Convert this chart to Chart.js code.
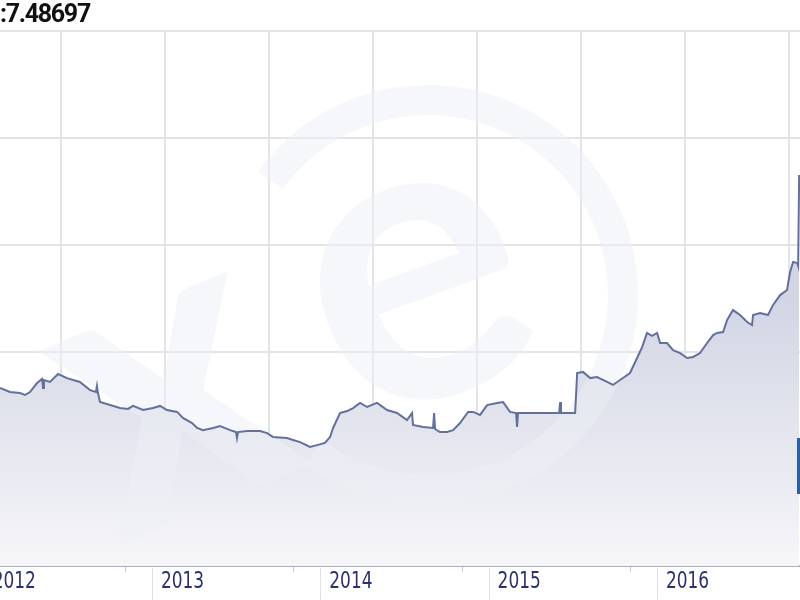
<!DOCTYPE html>
<html>
<head>
<meta charset="utf-8">
<script src="https://cdn.jsdelivr.net/npm/chart.js@4"></script>
<style>
  html, body { margin: 0; padding: 0; background: #fff; }
  #wrap { position: relative; width: 800px; height: 600px; overflow: hidden; }
  #title { position: absolute; left: 0; top: -1px; font: bold 25px Roboto, sans-serif; letter-spacing: -1.3px; color: #111; }
  #handle { position: absolute; left: 797px; top: 438px; width: 4px; height: 56px; background: #2f5ea6; }
</style>
</head>
<body>
<div id="wrap">
  <canvas id="chart" width="800" height="600"></canvas>
  <div id="title">:7.48697</div>
  <div id="handle"></div>
</div>
<script>
// decimal years
var dates = [2012.097, 2012.156, 2012.216, 2012.246, 2012.275, 2012.317, 2012.347, 2012.353, 2012.358, 2012.394,
  2012.442, 2012.495, 2012.572, 2012.632, 2012.667, 2012.673, 2012.679, 2012.691, 2012.751, 2012.810,
  2012.858, 2012.887, 2012.947, 2013.006, 2013.048, 2013.089, 2013.149, 2013.184, 2013.238, 2013.268,
  2013.303, 2013.363, 2013.404, 2013.464, 2013.499, 2013.505, 2013.511, 2013.565, 2013.642, 2013.684,
  2013.719, 2013.802, 2013.838, 2013.880, 2013.939, 2013.981, 2014.028, 2014.058, 2014.076, 2014.117,
  2014.159, 2014.195, 2014.236, 2014.278, 2014.337, 2014.397, 2014.456, 2014.515, 2014.545, 2014.551,
  2014.610, 2014.670, 2014.676, 2014.682, 2014.711, 2014.753, 2014.789, 2014.830, 2014.878, 2014.908,
  2014.949, 2014.991, 2015.050, 2015.086, 2015.127, 2015.163, 2015.169, 2015.175, 2015.228, 2015.305,
  2015.365, 2015.419, 2015.425, 2015.430, 2015.514, 2015.526, 2015.561, 2015.603, 2015.644, 2015.704,
  2015.739, 2015.781, 2015.840, 2015.882, 2015.912, 2015.941, 2015.971, 2016.001, 2016.019, 2016.060,
  2016.096, 2016.138, 2016.179, 2016.215, 2016.256, 2016.298, 2016.334, 2016.357, 2016.393, 2016.417,
  2016.452, 2016.494, 2016.536, 2016.565, 2016.571, 2016.613, 2016.660, 2016.690, 2016.732, 2016.773,
  2016.791, 2016.809, 2016.833, 2016.839, 2016.845];

var rates = [6.332, 6.313, 6.308, 6.299, 6.313, 6.355, 6.374, 6.332, 6.369, 6.360,
  6.397, 6.378, 6.360, 6.322, 6.313, 6.341, 6.308, 6.266, 6.252, 6.238,
  6.234, 6.248, 6.229, 6.238, 6.248, 6.229, 6.220, 6.192, 6.168, 6.145,
  6.135, 6.145, 6.154, 6.135, 6.126, 6.098, 6.126, 6.131, 6.131, 6.121,
  6.103, 6.098, 6.089, 6.079, 6.056, 6.065, 6.075, 6.103, 6.145, 6.215,
  6.224, 6.238, 6.262, 6.243, 6.262, 6.229, 6.215, 6.182, 6.215, 6.159,
  6.150, 6.145, 6.215, 6.140, 6.126, 6.126, 6.135, 6.168, 6.220, 6.220,
  6.206, 6.252, 6.262, 6.266, 6.220, 6.215, 6.150, 6.215, 6.215, 6.215,
  6.215, 6.215, 6.266, 6.215, 6.215, 6.402, 6.407, 6.378, 6.383, 6.360,
  6.346, 6.369, 6.402, 6.472, 6.523, 6.589, 6.575, 6.589, 6.542, 6.542,
  6.509, 6.495, 6.472, 6.477, 6.495, 6.542, 6.579, 6.589, 6.593, 6.650,
  6.696, 6.673, 6.640, 6.626, 6.673, 6.682, 6.673, 6.720, 6.766, 6.790,
  6.874, 6.921, 6.916, 6.902, 7.327];

var yearStarts = [2012, 2013, 2014, 2015, 2016];
var yearLabels = ["2012", "2013", "2014", "2015", "2016"];
var minorTicks = [2012.84, 2013.84, 2014.84, 2015.84];
var gridDates = [2012.459, 2013.077, 2013.695, 2014.313, 2014.931, 2015.549, 2016.167, 2016.785];

var watermark = {
  id: "watermark",
  beforeDatasetDraw: function(chart) {
    var c = chart.ctx, a = chart.chartArea;
    c.save();
    c.beginPath();
    c.rect(a.left, a.top, a.right - a.left, a.bottom - a.top);
    c.clip();
    c.fillStyle = c.strokeStyle = "rgba(238,239,245,0.5)";
    c.lineWidth = 30;
    c.beginPath();
    c.arc(428, 295, 195, Math.PI * 1.2, Math.PI * 0.7);
    c.stroke();
    c.font = "bold 410px Lato, sans-serif";
    c.textAlign = "center";
    c.textBaseline = "alphabetic";
    c.save();
    c.translate(455, 392);
    c.rotate(-0.35);
    c.fillText("e", 0, 0);
    c.restore();
    c.save();
    c.translate(215, 505);
    c.rotate(-0.4);
    c.fillText("x", 0, 0);
    c.restore();
    c.restore();
  }
};

var yearAxis = {
  id: "yearAxis",
  afterDraw: function(chart) {
    var c = chart.ctx, xs = chart.scales.x, a = chart.chartArea;
    c.save();
    c.lineWidth = 1;
    c.strokeStyle = "#e1e1e6";
    for (var i = 0; i < yearStarts.length; i++) {
      var px = Math.round(xs.getPixelForValue(yearStarts[i])) + 0.5;
      c.beginPath();
      c.moveTo(px, a.bottom + 2);
      c.lineTo(px, chart.height);
      c.stroke();
    }
    c.strokeStyle = "#c9ccd8";
    for (var j = 0; j < minorTicks.length; j++) {
      var tx = Math.round(xs.getPixelForValue(minorTicks[j])) + 0.5;
      c.beginPath();
      c.moveTo(tx, a.bottom + 1);
      c.lineTo(tx, a.bottom + 6);
      c.stroke();
    }
    c.font = '23px "DejaVu Sans Condensed", "Liberation Sans", sans-serif';
    c.fillStyle = "#2b3070";
    c.textBaseline = "middle";
    c.textAlign = "left";
    for (var k = 0; k < yearStarts.length; k++) {
      c.save();
      c.translate(xs.getPixelForValue(yearStarts[k]) + 9, a.bottom + 16);
      c.scale(0.82, 1);
      c.fillText(yearLabels[k], 0, 0);
      c.restore();
    }
    c.restore();
  }
};

var points = dates.map(function(d, i) { return {x: d, y: rates[i]}; });

new Chart(document.getElementById("chart").getContext("2d"), {
  type: "line",
  data: {
    datasets: [{
      data: points,
      borderColor: "#63709c",
      borderWidth: 2,
      pointRadius: 0,
      tension: 0,
      fill: "start",
      backgroundColor: function(context) {
        var area = context.chart.chartArea;
        if (!area) return "#e4e6ef";
        var g = context.chart.ctx.createLinearGradient(0, 300, 0, area.bottom);
        g.addColorStop(0, "#d2d5e4");
        g.addColorStop(1, "#f6f6f9");
        return g;
      }
    }]
  },
  options: {
    responsive: false,
    animation: false,
    layout: { padding: { top: 31, bottom: 34, left: 0, right: 0 } },
    plugins: { legend: { display: false }, tooltip: { enabled: false } },
    scales: {
      x: {
        type: "linear",
        min: 2012.097,
        max: 2016.850,
        afterBuildTicks: function(scale) {
          scale.ticks = gridDates.map(function(v) { return {value: v}; });
        },
        ticks: { display: false },
        grid: { color: "#e4e4e8", lineWidth: 2, drawTicks: false },
        border: { display: true, color: "#a9adc4", width: 2 }
      },
      y: {
        min: 5.5,
        max: 8.0,
        ticks: { display: false, stepSize: 0.5 },
        grid: { color: "#e4e4e8", lineWidth: 2, drawTicks: false },
        border: { display: false }
      }
    }
  },
  plugins: [watermark, yearAxis]
});
</script>
</body>
</html>
